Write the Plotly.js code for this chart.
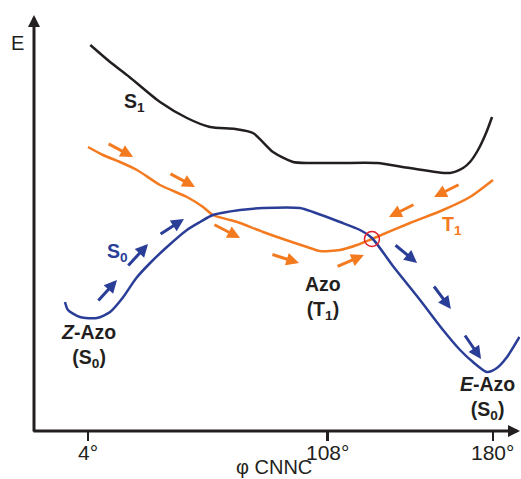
<!DOCTYPE html>
<html>
<head>
<meta charset="utf-8">
<script src="https://cdn.plot.ly/plotly-3.0.1.min.js"></script>
<style>html,body{margin:0;padding:0;background:#fff;}#chart{width:521px;height:479px;}</style>
</head>
<body>
<div id="chart"></div>
<script>
// Torsion angle φ CNNC (degrees) and energy (arbitrary units) read from the schematic
const phiS1 = [5, 13.6, 22.0, 35.3, 47.0, 57.0, 68.0, 75.7, 84.4, 93.1, 100.5, 113.5, 129.6, 143.9, 161.3, 167.0, 170.0, 173.5, 177.0, 179.6];
const eS1   = [38.6, 36.9, 35.4, 32.9, 31.3, 30.4, 30.2, 29.8, 27.9, 26.9, 26.8, 26.8, 26.8, 26.3, 25.8, 26.3, 26.9, 28.1, 29.8, 31.4];

const phiT1 = [4.0, 10.5, 17.9, 25.3, 35.3, 47.0, 54.0, 58.3, 65.7, 70.1, 80.1, 99.2, 104.8, 113.5, 120.9, 127.4, 143.9, 158.3, 170.0, 180.0];
const eT1   = [28.4, 27.6, 26.9, 26.1, 24.6, 23.4, 22.4, 21.6, 21.1, 20.8, 19.9, 18.4, 18.0, 18.1, 18.6, 19.2, 20.8, 22.1, 23.4, 25.1];

const phiS0 = [-6.0, -4.7, 0.5, 7.9, 13.6, 19.0, 25.0, 31.0, 38.3, 47.0, 52.7, 58.3, 70.1, 80.1, 96.1, 101.8, 113.5, 122.2, 127.4, 136.5, 148.3, 158.3, 165.7, 171.3, 177.4, 181.7, 186.1, 191.5];
const eS0   = [12.9, 12.1, 11.4, 11.3, 11.9, 13.3, 15.3, 16.8, 18.4, 20.1, 20.9, 21.6, 22.1, 22.3, 22.3, 21.9, 20.9, 20.1, 19.3, 16.5, 13.1, 10.1, 8.1, 6.9, 5.9, 6.3, 7.4, 9.4];

// crossing point (intersystem crossing)
const crossPhi = [127.4];
const crossE = [19.2];

// direction arrows: tail -> tip
const orangeTailPhi = [12.3, 39.2, 58.3, 83.5, 111.8, 165.7, 146.1];
const orangeTailE   = [28.8, 25.8, 20.7, 17.7, 16.4, 24.7, 22.7];
const orangeTipPhi  = [23.6, 50.5, 70.1, 95.7, 123.9, 154.4, 134.8];
const orangeTipE    = [27.4, 24.4, 19.3, 16.8, 17.6, 23.4, 21.4];

const blueTailPhi = [7.9, 20.9, 34.9, 137.0, 153.9, 167.4];
const blueTailE   = [12.9, 16.4, 19.6, 18.7, 14.6, 9.7];
const blueTipPhi  = [16.6, 30.1, 45.7, 147.0, 161.7, 174.8];
const blueTipE    = [15.1, 18.7, 21.2, 16.8, 12.2, 7.2];

// tick labels
const tickPhi = [4, 108, 180];
const tickText = ['4°', '108°', '180°'];
const xTitle = 'φ CNNC';
const yTitle = 'E';

// text labels
const labelText = ['S<sub>1</sub>', 'T<sub>1</sub>', 'S<sub>0</sub>', '<i>Z</i>-Azo<br>(S<sub>0</sub>)', 'Azo<br>(T<sub>1</sub>)', '<i>E</i>-Azo<br>(S<sub>0</sub>)'];
const labelPhi = [24.0, 162.2, 16.6, 4.0, 106.1, 177.8];
const labelE = [32.9, 20.6, 17.9, 8.5, 13.3, 3.3];

const BLACK = '#231F20', ORANGE = '#F47A20', BLUE = '#2A3D97', RED = '#E2202A';
const labelColor = [BLACK, ORANGE, BLUE, BLACK, BLACK, BLACK];
const FONT = 'Liberation Sans, Arial, Helvetica, sans-serif';

const traces = [
  {x: phiS1, y: eS1, mode: 'lines', line: {color: BLACK, width: 2.5, shape: 'spline', smoothing: 0.7}, hoverinfo: 'skip'},
  {x: phiT1, y: eT1, mode: 'lines', line: {color: ORANGE, width: 2.5, shape: 'spline', smoothing: 0.7}, hoverinfo: 'skip'},
  {x: phiS0, y: eS0, mode: 'lines', line: {color: BLUE, width: 2.5, shape: 'spline', smoothing: 0.7}, hoverinfo: 'skip'},
  {x: crossPhi, y: crossE, mode: 'markers', marker: {symbol: 'circle-open', size: 15, color: RED, line: {color: RED, width: 1.5}}, hoverinfo: 'skip'}
];

const annotations = [];
function addArrows(tx, ty, hx, hy, color) {
  for (let i = 0; i < tx.length; i++) {
    annotations.push({x: hx[i], y: hy[i], xref: 'x', yref: 'y', ax: tx[i], ay: ty[i], axref: 'x', ayref: 'y',
      text: '', showarrow: true, arrowhead: 2, arrowsize: 0.85, arrowwidth: 3, arrowcolor: color});
  }
}
addArrows(orangeTailPhi, orangeTailE, orangeTipPhi, orangeTipE, ORANGE);
addArrows(blueTailPhi, blueTailE, blueTipPhi, blueTipE, BLUE);

for (let i = 0; i < labelText.length; i++) {
  annotations.push({x: labelPhi[i], y: labelE[i], xref: 'x', yref: 'y', text: labelText[i], showarrow: false,
    xanchor: 'center', yanchor: 'middle', font: {family: FONT, size: 19.5, color: labelColor[i], weight: 'bold'}});
}

// tick labels placed at the tick positions on the x scale
for (let i = 0; i < tickPhi.length; i++) {
  annotations.push({x: tickPhi[i], y: -0.052, xref: 'x', yref: 'paper', text: tickText[i], showarrow: false,
    xanchor: 'center', yanchor: 'middle', font: {family: FONT, size: 21, color: BLACK}});
}

// axis arrows
annotations.push({x: 0, y: 1, xref: 'paper', yref: 'paper', ax: 0, ay: 418, axref: 'pixel', ayref: 'pixel',
  text: '', showarrow: true, arrowhead: 2, arrowsize: 0.8, arrowwidth: 3, arrowcolor: BLACK});
annotations.push({x: 1, y: 0, xref: 'paper', yref: 'paper', ax: -488, ay: 0, axref: 'pixel', ayref: 'pixel',
  text: '', showarrow: true, arrowhead: 2, arrowsize: 0.8, arrowwidth: 3, arrowcolor: BLACK});
// axis titles
annotations.push({x: -0.033, y: 0.933, xref: 'paper', yref: 'paper', text: yTitle, showarrow: false,
  xanchor: 'center', yanchor: 'middle', font: {family: FONT, size: 20, color: BLACK}});
annotations.push({x: 0.493, y: -0.087, xref: 'paper', yref: 'paper', text: xTitle, showarrow: false,
  xanchor: 'center', yanchor: 'middle', font: {family: FONT, size: 20, color: BLACK}});

const layout = {
  width: 521, height: 479,
  margin: {l: 34, r: 1, t: 15, b: 48},
  paper_bgcolor: '#fff', plot_bgcolor: '#fff',
  showlegend: false,
  font: {family: FONT, color: BLACK},
  xaxis: {
    range: [-19.47, 191.74], showgrid: false, zeroline: false, showline: false,
    tickmode: 'array', tickvals: tickPhi, ticktext: tickText, showticklabels: false,
    ticks: 'outside', ticklen: 9, tickwidth: 2.5, tickcolor: BLACK,
    automargin: false
  },
  yaxis: {
    range: [0, 41.6], showgrid: false, zeroline: false, showline: false,
    showticklabels: false, ticks: '', automargin: false
  },
  annotations: annotations
};

Plotly.newPlot('chart', traces, layout, {displayModeBar: false, staticPlot: true});
</script>
</body>
</html>
